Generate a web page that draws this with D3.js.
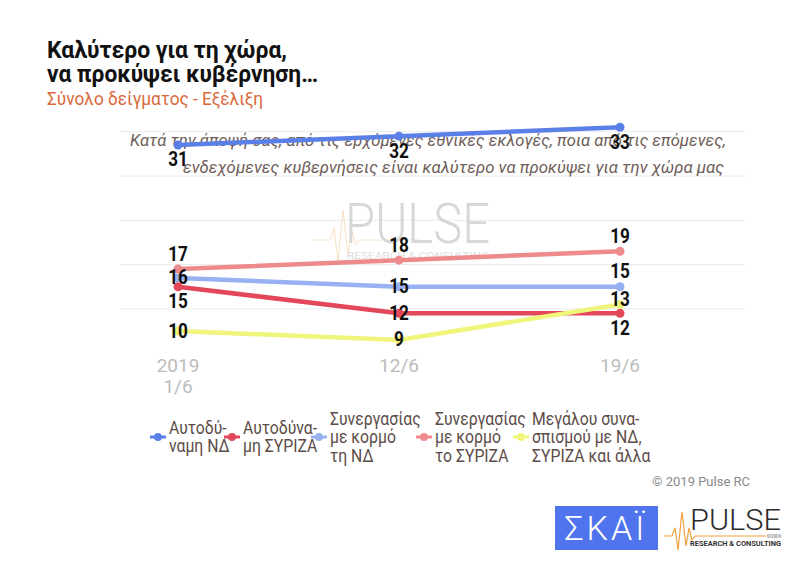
<!DOCTYPE html>
<html lang="el">
<head>
<meta charset="UTF-8">
<title>Καλύτερο για τη χώρα</title>
<script src="https://d3js.org/d3.v7.min.js"></script>
<style>
  body { margin: 0; background: #fff; }
  svg { font-family: Roboto, "Noto Sans", sans-serif; }
</style>
</head>
<body>
<div class="canvas"></div>
<script>
  // data
  const dates = ['2019 1/6', '12/6', '19/6'];
  const dateLines = [['2019', '1/6'], ['12/6'], ['19/6']];
  const seriesNames = ['Αυτοδύναμη ΝΔ', 'Αυτοδύναμη ΣΥΡΙΖΑ', 'Συνεργασίας με κορμό τη ΝΔ',
    'Συνεργασίας με κορμό το ΣΥΡΙΖΑ', 'Μεγάλου συνασπισμού με ΝΔ, ΣΥΡΙΖΑ και άλλα'];
  const ndAlone = [31, 32, 33];
  const syrizaAlone = [15, 12, 12];
  const ndCoalition = [16, 15, 15];
  const syrizaCoalition = [17, 18, 19];
  const grandCoalition = [10, 9, 13];
  const legendLines = [
    ['Αυτοδύ-', 'ναμη ΝΔ'],
    ['Αυτοδύνα-', 'μη ΣΥΡΙΖΑ'],
    ['Συνεργασίας', 'με κορμό', 'τη ΝΔ'],
    ['Συνεργασίας', 'με κορμό', 'το ΣΥΡΙΖΑ'],
    ['Μεγάλου συνα-', 'σπισμού με ΝΔ,', 'ΣΥΡΙΖΑ και άλλα']
  ];
  const gridTicks = [12.5, 17.5, 22.5, 27.5, 32.5];

  const allSeries = [ndAlone, syrizaAlone, ndCoalition, syrizaCoalition, grandCoalition];

  // styles
  const colors = ['#5a80e8', '#e3475a', '#97b1f2', '#ed8a8c', '#f0f67c'];
  // where each value label sits relative to its point: -1 above, 0 on, 1 below
  const labelPlacement = [[1, 1, 1], [1, 0, 1], [0, 0, -1], [-1, -1, -1], [0, 0, -0.3]];
  const legendX = [150, 224, 311, 416, 513];

  const W = 789, H = 566;

  const svg = d3.select('.canvas')
    .append('svg')
    .attr('width', W)
    .attr('height', H)

  const fit = (sel, w) => sel.attr('textLength', w).attr('lengthAdjust', 'spacingAndGlyphs')

  // titles
  svg.append('text').attr('x', 47).attr('y', 58)
    .attr('font-size', 23).attr('font-weight', 700).attr('fill', '#111')
    .text('Καλύτερο για τη χώρα,').call(fit, 240)
  svg.append('text').attr('x', 47).attr('y', 82)
    .attr('font-size', 23).attr('font-weight', 700).attr('fill', '#111')
    .text('να προκύψει κυβέρνηση…').call(fit, 271)
  svg.append('text').attr('x', 47).attr('y', 105)
    .attr('font-size', 18).attr('fill', '#d9693c')
    .text('Σύνολο δείγματος - Εξέλιξη').call(fit, 216)

  const x = d3.scalePoint().domain(dates).range([178, 620])
  const y = d3.scaleLinear().domain([7.5, 37.5]).range([353.2, 87.4])

  // gridlines
  svg.append('g').selectAll('line')
    .data(gridTicks)
    .enter()
    .append('line')
    .attr('x1', 120).attr('x2', 745)
    .attr('y1', d => y(d)).attr('y2', d => y(d))
    .attr('stroke', '#ececec').attr('stroke-width', 1)

  // watermark
  const wm = svg.append('g').attr('opacity', 0.55)
  wm.append('path')
    .attr('d', 'M312,240 L330,240 L334,228 L338,262 L343,210 L348,255 L352,232 L356,245 L360,240 L420,240')
    .attr('fill', 'none').attr('stroke', '#f3c996').attr('stroke-width', 1)
  wm.append('text').attr('x', 345).attr('y', 243)
    .attr('font-size', 55).attr('font-weight', 300).attr('fill', '#b8b8b8')
    .text('PULSE').call(fit, 145)
  wm.append('text').attr('x', 347).attr('y', 259)
    .attr('font-size', 9).attr('fill', '#c4c4c4')
    .text('RESEARCH & CONSULTING').call(fit, 142)

  // question text
  svg.append('text').attr('x', 726).attr('y', 146).attr('text-anchor', 'end')
    .attr('font-size', 17).attr('font-style', 'italic').attr('fill', '#6e5d58')
    .text('Κατά την άποψή σας, από τις ερχόμενες εθνικές εκλογές, ποια από τις επόμενες,').call(fit, 596)
  svg.append('text').attr('x', 724).attr('y', 173).attr('text-anchor', 'end')
    .attr('font-size', 17).attr('font-style', 'italic').attr('fill', '#6e5d58')
    .text('ενδεχόμενες κυβερνήσεις είναι καλύτερο να προκύψει για την χώρα μας').call(fit, 541)

  // x axis labels
  const xl = svg.append('g').selectAll('text')
    .data(dates)
    .enter()
    .append('text')
    .attr('text-anchor', 'middle')
    .attr('font-size', 19).attr('fill', '#bcbcbc')
  xl.selectAll('tspan')
    .data((d, i) => dateLines[i].map(t => ({ t, d })))
    .enter()
    .append('tspan')
    .attr('x', d => x(d.d))
    .attr('y', (d, j) => 372 + j * 21)
    .text(d => d.t)

  // lines and points
  const line = d3.line().x((d, i) => x(dates[i])).y(d => y(d))

  const groups = svg.append('g').selectAll('g')
    .data(allSeries)
    .enter()
    .append('g')

  groups.append('path')
    .attr('d', d => line(d))
    .attr('fill', 'none')
    .attr('stroke', (d, i) => colors[i])
    .attr('stroke-width', 4.5)
    .attr('stroke-linejoin', 'round')

  groups.each(function (s, si) {
    d3.select(this).selectAll('circle')
      .data(s)
      .enter()
      .append('circle')
      .attr('cx', (d, i) => x(dates[i]))
      .attr('cy', d => y(d))
      .attr('r', 4.5)
      .attr('fill', colors[si])
  })

  // value labels
  const labels = svg.append('g')
  allSeries.forEach((s, si) => {
    labels.selectAll(null)
      .data(s)
      .enter()
      .append('text')
      .attr('x', (d, i) => x(dates[i]))
      .attr('y', (d, i) => y(d) + labelPlacement[si][i] * 15 + 6.5)
      .attr('text-anchor', 'middle')
      .attr('font-size', 19.5).attr('font-weight', 700).attr('fill', '#111')
      .text(d => d)
      .each(function () { d3.select(this).call(fit, this.getComputedTextLength() * 0.88) })
  })

  // legend
  const leg = svg.append('g').selectAll('g')
    .data(seriesNames)
    .enter()
    .append('g')
    .attr('transform', (d, i) => `translate(${legendX[i]}, 437)`)

  leg.append('line')
    .attr('x1', 0).attr('x2', 16)
    .attr('stroke', (d, i) => colors[i]).attr('stroke-width', 3)
  leg.append('circle')
    .attr('cx', 8).attr('r', 4)
    .attr('fill', (d, i) => colors[i])

  leg.append('text')
    .attr('font-size', 17.5).attr('fill', '#5c4c48')
    .each(function (d, i) {
      const n = legendLines[i].length
      d3.select(this).selectAll('tspan')
        .data(legendLines[i])
        .enter()
        .append('tspan')
        .attr('x', 19)
        .attr('y', (t, j) => (j - (n - 1) / 2) * 18.5 + 6)
        .text(t => t)
        .each(function () { d3.select(this).call(fit, this.getComputedTextLength() * 0.9) })
    })

  // credits
  svg.append('text').attr('x', 750).attr('y', 486).attr('text-anchor', 'end')
    .attr('font-size', 13).attr('fill', '#8a8a8a')
    .text('© 2019 Pulse RC')

  // logos
  svg.append('rect').attr('x', 555).attr('y', 506).attr('width', 103).attr('height', 44)
    .attr('fill', '#4f74ee')
  svg.append('text').attr('x', 606).attr('y', 540).attr('text-anchor', 'middle')
    .attr('font-size', 34).attr('font-weight', 300).attr('fill', '#fff')
    .attr('letter-spacing', 3)
    .text('ΣΚΑΪ')

  svg.append('path')
    .attr('d', 'M664,536 L672,536 L675,528 L678,550 L682,512 L686,546 L689,528 L692,540 L695,536 L766,536')
    .attr('fill', 'none').attr('stroke', '#f0a040').attr('stroke-width', 1.2)
  svg.append('text').attr('x', 690).attr('y', 530)
    .attr('font-size', 30).attr('font-weight', 300).attr('fill', '#2b2b2b')
    .text('PULSE').call(fit, 91)
  svg.append('text').attr('x', 767).attr('y', 538)
    .attr('font-size', 5).attr('font-weight', 700).attr('fill', '#999')
    .text('KOSMON').call(fit, 14)
  svg.append('text').attr('x', 690).attr('y', 546)
    .attr('font-size', 7).attr('font-weight', 700).attr('fill', '#333')
    .text('RESEARCH & CONSULTING').call(fit, 91)
</script>
</body>
</html>
